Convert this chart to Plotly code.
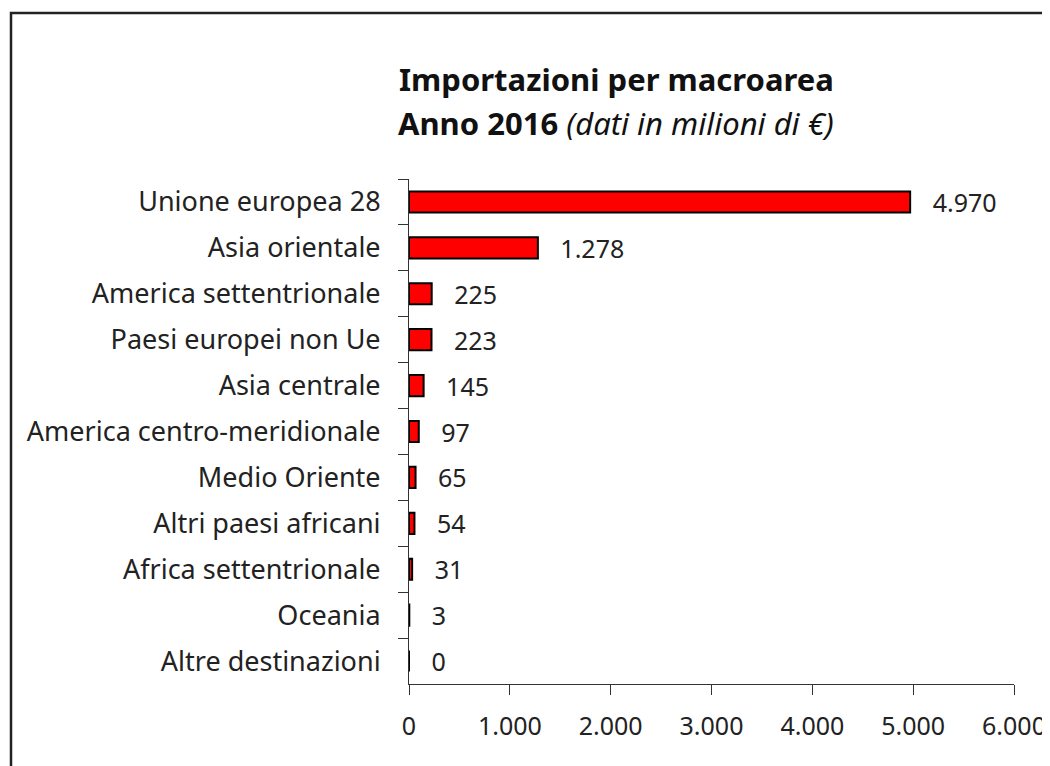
import plotly.graph_objects as go

# dati: importazioni per macroarea, anno 2016 (milioni di euro)
areas = [
    "Unione europea 28",
    "Asia orientale",
    "America settentrionale",
    "Paesi europei non Ue",
    "Asia centrale",
    "America centro-meridionale",
    "Medio Oriente",
    "Altri paesi africani",
    "Africa settentrionale",
    "Oceania",
    "Altre destinazioni",
]
values = [4970, 1278, 225, 223, 145, 97, 65, 54, 31, 3, 0]
x_ticks = [0, 1000, 2000, 3000, 4000, 5000, 6000]

FONT = "Noto Sans"
TXT = "#222222"

# the page puts the figure 8px in from the top-left corner
OFF = 8

fig = go.Figure()
fig.add_trace(go.Bar(
    x=values,
    y=areas,
    orientation="h",
    marker=dict(color="#ff0000", line=dict(color="#000000", width=2)),
    width=0.46,
    texttemplate="\u00a0\u00a0\u00a0%{x:,}",
    textposition="outside",
    constraintext="none",
    cliponaxis=False,
    textfont=dict(family=FONT, size=25, color=TXT),
))

fig.update_layout(
    width=1050,
    height=766,
    margin=dict(l=409 - OFF, r=1050 - (1014 - OFF), t=179 - OFF, b=766 - (684 - OFF)),
    paper_bgcolor="white",
    plot_bgcolor="white",
    separators=",.",
    showlegend=False,
    font=dict(family=FONT, size=25, color=TXT),
)

fig.update_yaxes(
    autorange="reversed",
    type="category",
    showline=True,
    linecolor="#333333",
    linewidth=1,
    ticks="outside",
    tickson="boundaries",
    ticklen=10,
    tickcolor="#333333",
    showgrid=False,
    ticklabelstandoff=22,
    tickfont=dict(family=FONT, size=27, color=TXT),
)
fig.update_xaxes(
    range=[0, 6000],
    tickvals=x_ticks,
    tickformat=",",
    separatethousands=True,
    showline=True,
    linecolor="#333333",
    linewidth=1,
    ticks="outside",
    ticklen=10,
    tickcolor="#333333",
    showgrid=False,
    zeroline=False,
    ticklabelstandoff=10,
    tickfont=dict(family=FONT, size=25, color=TXT),
)

# titolo su due righe (posizioni in pixel dello schermo -> paper)
def px_x(p):
    return (p - 409) / 605


def px_y(p):
    return (684 - p) / 505


fig.add_annotation(
    text="<b>Importazioni per macroarea</b>",
    xref="paper", yref="paper",
    x=px_x(616), y=px_y(79),
    xanchor="center", yanchor="middle",
    showarrow=False,
    font=dict(family=FONT, size=31, color="#111111"),
)
fig.add_annotation(
    text="<b>Anno 2016</b> <i>(dati in milioni di €)</i>",
    xref="paper", yref="paper",
    x=px_x(616), y=px_y(123),
    xanchor="center", yanchor="middle",
    showarrow=False,
    font=dict(family=FONT, size=31, color="#111111"),
)

# cornice del grafico (in parte tagliata)
fig.add_shape(
    type="rect",
    xref="paper", yref="paper",
    x0=px_x(11), x1=px_x(1070),
    y0=px_y(790), y1=px_y(13),
    line=dict(color="#222222", width=2.5),
    fillcolor="rgba(0,0,0,0)",
)

fig.write_html("out.html")
